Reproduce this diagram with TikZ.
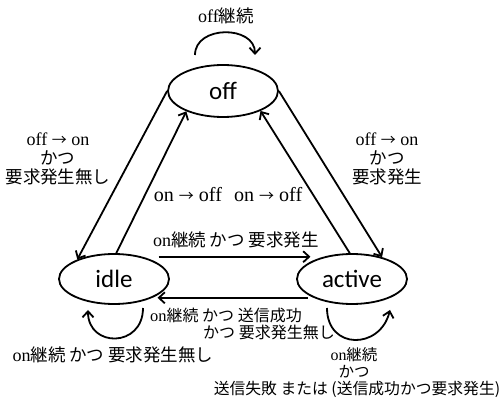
\documentclass[tikz,border=0pt]{standalone}
\usepackage{fontspec}
\setmainfont{Liberation Serif}[Scale=1.03]
\newfontfamily\jpfont{Noto Sans CJK JP}
\newfontfamily\nodefont{Carlito}
\usetikzlibrary{shapes.geometric,arrows.meta}
\newcommand{\J}[1]{{\jpfont #1}}
\newcommand{\ar}{{\jpfont\fontsize{15}{15}\selectfont →}}
\begin{document}
\begin{tikzpicture}[x=1pt,y=-1pt,
  state/.style={ellipse,draw,line width=1.8pt,minimum width=110pt,minimum height=50pt,inner sep=0pt,
    font=\nodefont\fontsize{25}{25}\selectfont},
  conn/.style={line width=1.8pt,-{Straight Barb[length=6pt,width=11pt]}},
  lbl/.style={align=center,inner sep=0pt,font=\fontsize{17.5}{19}\selectfont},
  small/.style={lbl,font=\fontsize{15.5}{15.5}\selectfont}]
\path[use as bounding box] (0,0) rectangle (499,398);
\node[state,minimum height=52pt] (off) at (223,91) {off};
\node[state] (idle) at (114,279) {idle};
\node[state] (active) at (352,279) {active};
% connectors
\draw[conn] (off.180) -- (idle.152);
\draw[conn] (idle.85) -- (off.209);
\draw[conn] (off.0) -- (active.36);
\draw[conn] (active.95) -- (off.332);
\draw[conn,shorten <=16pt,shorten >=13pt] (idle.38) -- (active.142);
\draw[conn,shorten <=6pt,shorten >=5pt] (active.206) -- (idle.334);
% self loops
\draw[conn] ([shift={(-28,-36)}]off.center) .. controls +(0,-30) and +(0,-30) .. ([shift={(32,-36)}]off.center);
\draw[conn] ([shift={(29,29)}]idle.center) .. controls +(0,40) and +(0,38) .. ([shift={(-26,31)}]idle.center);
\draw[conn] ([shift={(-25,29)}]active.center) .. controls +(0,42) and +(-10,40) .. ([shift={(38,31)}]active.center);
% labels
\node[lbl] (l1) at (226,16) {off\J{継続}};
\node[lbl] (l2) at (58,159) {off \ar{} on\\\J{かつ}\\\J{要求発生無し}};
\node[lbl] (l3) at (387,159) {off \ar{} on\\\J{かつ}\\\J{要求発生}};
\node[lbl,font=\fontsize{19.5}{19.5}\selectfont] (l4) at (228,195) {on \ar{} off\hspace{0.6em}on \ar{} off};
\node[lbl] (l5) at (236,240) {on\J{継続 かつ 要求発生}};
\node[small,font=\fontsize{16}{16}\selectfont] (l6) at (226,315) {on\J{継続 かつ 送信成功}};
\node[small,font=\fontsize{16}{16}\selectfont] (l7) at (269,332) {\J{かつ 要求発生無し}};
\node[lbl] (l8) at (113,355) {on\J{継続 かつ 要求発生無し}};
\node[small] (l9) at (354,355) {on\J{継続}};
\node[small] (l10) at (354,372) {\J{かつ}};
\node[lbl,font=\fontsize{15.8}{15.8}\selectfont] (l11) at (357,389) {\J{送信失敗 または (送信成功かつ要求発生)}};
\end{tikzpicture}
\end{document}
